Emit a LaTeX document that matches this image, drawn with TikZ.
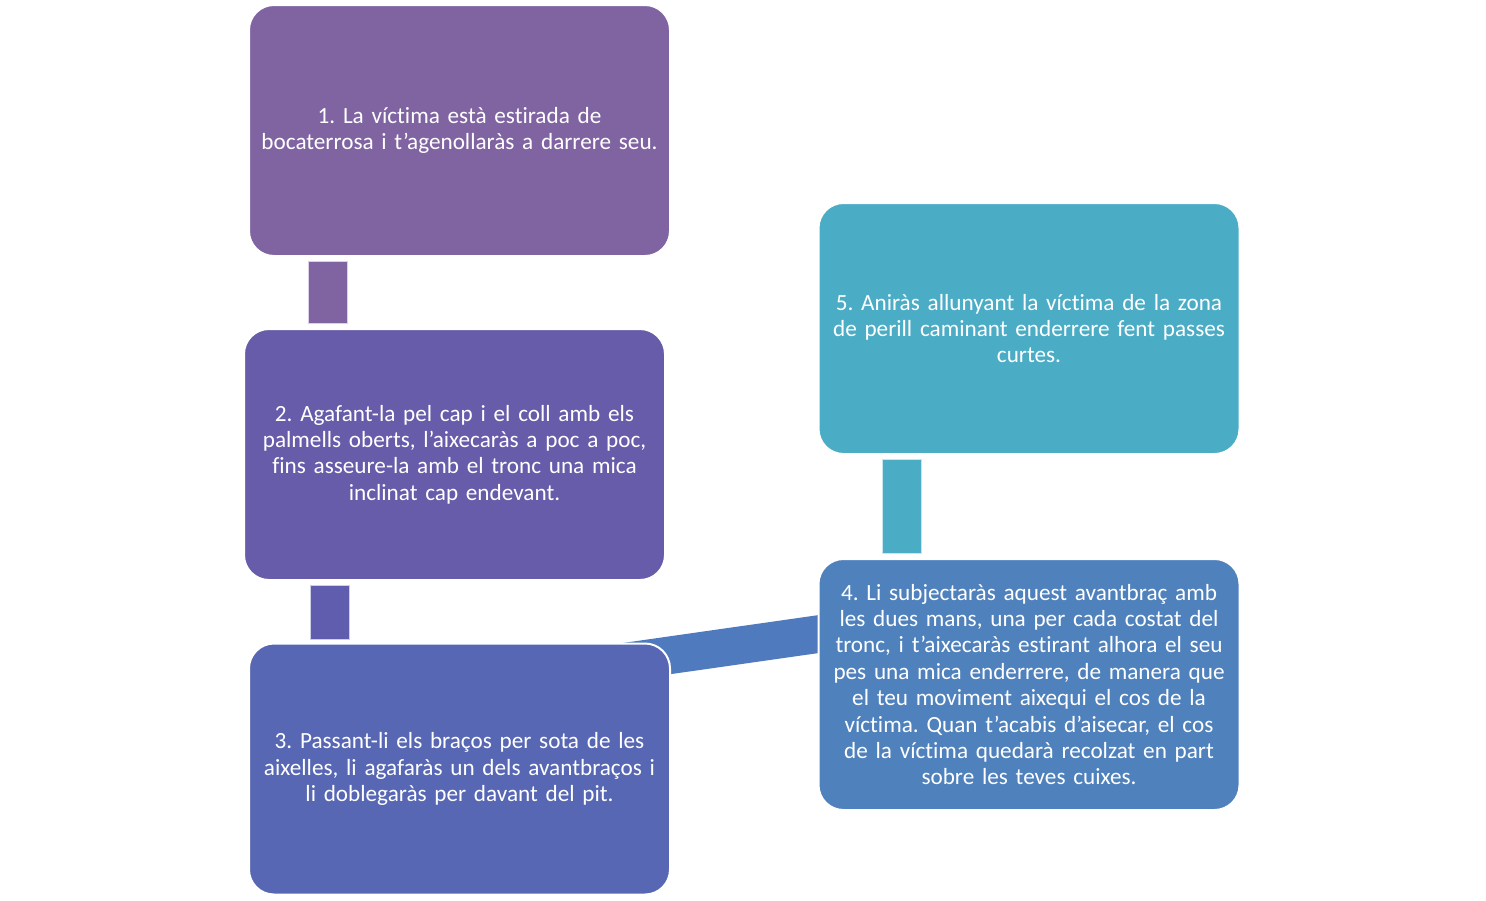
\documentclass[tikz,border=0pt]{standalone}
\usepackage{fontspec}
\setmainfont[Ligatures=NoCommon]{Carlito}
\usepackage{tikz}
\usetikzlibrary{calc,backgrounds}
\definecolor{stepone}{HTML}{8064A2}
\definecolor{steptwo}{HTML}{675CA9}
\definecolor{stepthree}{HTML}{5767B3}
\definecolor{stepfour}{HTML}{4F81BD}
\definecolor{stepfive}{HTML}{4BACC6}
\definecolor{linktwo}{HTML}{605CAE}
\definecolor{linkthree}{HTML}{4F7BBE}
\frenchspacing

\begin{document}
\begin{tikzpicture}[
    x=0.5pt, y=-0.5pt,
    stepbox/.style={rectangle, rounded corners=12.5pt, draw=white, line width=1pt,
        minimum width=210.5pt, minimum height=125.5pt, text width=205pt, align=center,
        text=white, font=\fontsize{11.6}{13.2}\selectfont, inner sep=0pt},
    linkbar/.style={draw=white!70!#1, line width=0.5pt, fill=#1}
]
\useasboundingbox (0,0) rectangle (1486,900);

\node[stepbox, fill=stepone] (b1) at (459.5,130.5) {1. La víctima està estirada de\\ bocaterrosa i t’agenollaràs a darrere seu.};
\node[stepbox, fill=steptwo] (b2) at (454.5,454.5) {2. Agafant-la pel cap i el coll amb els\\ palmells oberts, l’aixecaràs a poc a poc,\\ fins asseure-la amb el tronc una mica\\ inclinat cap endevant.};
\node[stepbox, fill=stepthree] (b3) at (459.5,769) {3. Passant-li els braços per sota de les\\ aixelles, li agafaràs un dels avantbraços i\\ li doblegaràs per davant del pit.};
\node[stepbox, fill=stepfour] (b4) at (1029,684.5) {4. Li subjectaràs aquest avantbraç amb\\ les dues mans, una per cada costat del\\ tronc, i t’aixecaràs estirant alhora el seu\\ pes una mica enderrere, de manera que\\ el teu moviment aixequi el cos de la\\ víctima. Quan t’acabis d’aisecar, el cos\\ de la víctima quedarà recolzat en part\\ sobre les teves cuixes.};
\node[stepbox, fill=stepfive] (b5) at (1029,328.5) {5. Aniràs allunyant la víctima de la zona\\ de perill caminant enderrere fent passes\\ curtes.};

\coordinate (c3) at ($(b3.north east)+(-80,24)$);
\coordinate (c4) at ($(b4.west)+(12,-52)$);

\begin{scope}[on background layer]
\draw[linkbar=stepone] ($(b1.south west)+(60,4)$) rectangle ($(b2.north west)+(104,-5)$);
\draw[linkbar=linktwo] ($(b2.south west)+(67,4)$) rectangle ($(b3.north west)+(101,-3)$);
\draw[linkthree, line width=18.8pt] (c3) -- (c4);
\draw[linkbar=stepfive] ($(b5.south west)+(65,4)$) rectangle ($(b4.north west)+(104,-5)$);
\end{scope}
\end{tikzpicture}
\end{document}
